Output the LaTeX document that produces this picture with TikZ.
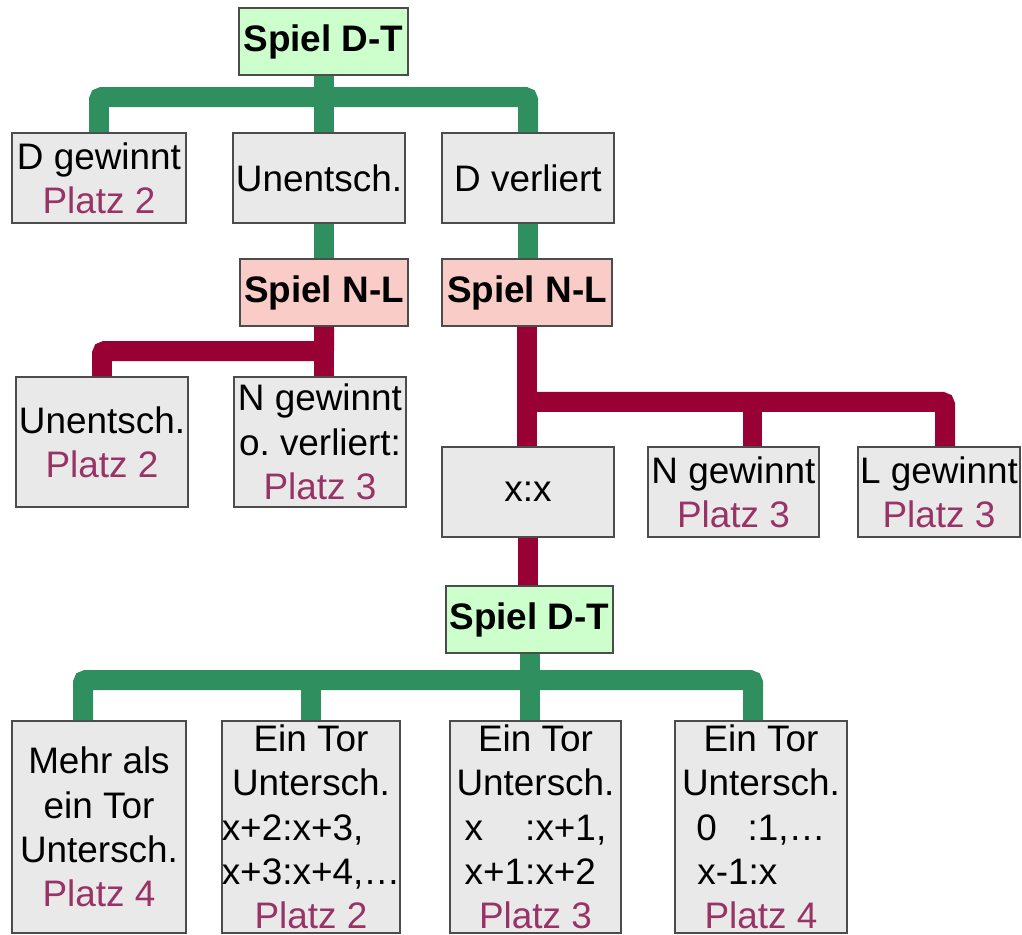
\documentclass[tikz,border=0pt]{standalone}
\usepackage{fontspec}
\setmainfont{Liberation Sans}
\usepackage{tikz}

\definecolor{linegreen}{RGB}{47,143,94}
\definecolor{linered}{RGB}{153,0,51}
\definecolor{dtgreen}{RGB}{204,255,204}
\definecolor{nlpink}{RGB}{250,204,200}
\definecolor{boxgrey}{RGB}{233,233,233}
\definecolor{platzcol}{RGB}{153,51,102}
\newcommand{\boxfont}{\fontsize{21}{25.2}\selectfont}
\newcommand{\platz}[1]{\textcolor{platzcol}{Platz #1}}

\begin{document}
\begin{tikzpicture}[
  x=0.02cm, y=-0.02cm,
  box/.style={rectangle, draw=black!70, line width=1.1pt, fill=boxgrey, align=center,
              inner sep=0pt, font=\boxfont},
  dtbox/.style={box, fill=dtgreen, font=\boxfont\bfseries, minimum height=1.34cm},
  nlbox/.style={box, fill=nlpink, font=\boxfont\bfseries, minimum height=1.34cm},
  gline/.style={draw=linegreen, line width=0.4cm, rounded corners=0.06cm},
  rline/.style={gline, draw=linered}
]
\useasboundingbox (0,0) rectangle (1022,935);

\node[dtbox, minimum width=3.38cm] (dt1) at (323.5,41.5) {Spiel D-T};
\node[box, minimum width=3.48cm, minimum height=1.8cm] (dgew) at (99,178) {D gewinnt\\ \platz{2}};
\node[box, minimum width=3.44cm, minimum height=1.8cm] (unent1) at (319,178) {Unentsch.};
\node[box, minimum width=3.44cm, minimum height=1.8cm] (dverl) at (528,178) {D verliert};

\node[nlbox, minimum width=3.36cm] (nl1) at (324,292.5) {Spiel N-L};
\node[nlbox, minimum width=3.40cm] (nl2) at (527,292.5) {Spiel N-L};

\node[box, minimum width=3.44cm, minimum height=2.6cm] (unent2) at (102,442) {Unentsch.\\ \platz{2}};
\node[box, minimum width=3.44cm, minimum height=2.6cm] (nverl) at (320,442) {N gewinnt\\ o.\ verliert:\\ \platz{3}};
\node[box, minimum width=3.44cm, minimum height=1.8cm] (xx) at (528,492) {x:x};
\node[box, minimum width=3.42cm, minimum height=1.8cm] (ngew) at (733.5,492) {N gewinnt\\ \platz{3}};
\node[box, minimum width=3.24cm, minimum height=1.8cm] (lgew) at (939,492) {L gewinnt\\ \platz{3}};

\node[dtbox, minimum width=3.34cm] (dt2) at (529.5,619.5) {Spiel D-T};

\node[box, minimum width=3.48cm, minimum height=4.24cm] (mehr) at (99,827)
  {Mehr als\\ ein Tor\\ Untersch.\\ \platz{4}};
\node[box, minimum width=3.48cm, minimum height=4.24cm] (einsA) at (311,827)
  {Ein Tor\\ Untersch.\\ x+2:x+3,\phantom{\ldots}\\ x+3:x+4,\ldots\\ \platz{2}};
\node[box, minimum width=3.42cm, minimum height=4.24cm] (einsB) at (535.5,827)
  {Ein Tor\\ Untersch.\\ \rlap{x}\phantom{x+1}:x+1,\\ x+1:x+2\phantom{,}\\ \platz{3}};
\node[box, minimum width=3.44cm, minimum height=4.24cm] (einsC) at (761,827)
  {Ein Tor\\ Untersch.\\ \rlap{0}\phantom{x-1}:1,\ldots\\ x-1:x\phantom{,\ldots}\\ \platz{4}};

\draw[gline] (dgew.north) -- ++(0,-35) -| (dverl.north);
\draw[gline] (dt1.south) -- (dt1.south |- unent1.north);
\draw[gline] (nl1.north |- unent1.south) -- (nl1.north);
\draw[gline] (dverl.south) -- (dverl.south |- nl2.north);

\draw[rline] (nl1.south) -- (nl1.south |- nverl.north);
\draw[rline] (unent2.north) -- ++(0,-25) -| (nl1.south);
\draw[rline] (nl2.south) -- (nl2.south |- xx.north);
\draw[rline] (nl2.south) ++(0,75) -| ([xshift=0.12cm]lgew.north);
\draw[rline] ([xshift=0.38cm]ngew.north) -- ++(0,-46);
\draw[rline] (xx.south) -- (xx.south |- dt2.north);

\draw[gline] ([xshift=-0.32cm]mehr.north) -- ++(0,-40) -| ([xshift=-0.16cm]einsC.north);
\draw[gline] (dt2.south) -- (dt2.south |- einsB.north);
\draw[gline] (einsA.north) -- ++(0,-40);
\end{tikzpicture}
\end{document}
